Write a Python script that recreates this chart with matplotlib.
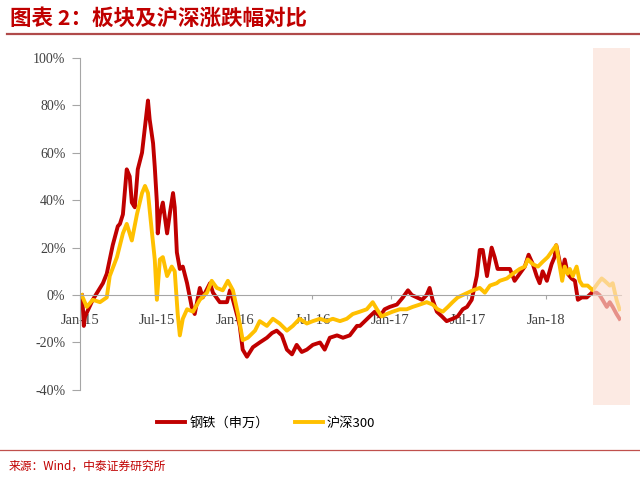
import pandas as pd
import matplotlib
matplotlib.use("Agg")
import matplotlib.pyplot as plt
import matplotlib.dates as mdates
from matplotlib.lines import Line2D
from matplotlib.ticker import FuncFormatter

# ---- data (% change since 2015-01-05) ----
steel_dates = [
    "2015-01-05", "2015-01-08", "2015-01-10", "2015-01-13", "2015-01-31", "2015-02-17",
    "2015-02-24", "2015-03-05", "2015-03-12", "2015-03-19", "2015-03-31", "2015-04-05",
    "2015-04-12", "2015-04-21", "2015-04-28", "2015-05-03", "2015-05-10", "2015-05-17",
    "2015-05-27", "2015-06-03", "2015-06-10", "2015-06-14", "2015-06-22", "2015-06-26",
    "2015-07-01", "2015-07-03", "2015-07-08", "2015-07-15", "2015-07-25", "2015-08-01",
    "2015-08-08", "2015-08-12", "2015-08-17", "2015-08-24", "2015-08-31", "2015-09-10",
    "2015-09-21", "2015-09-28", "2015-10-10", "2015-10-17", "2015-11-03", "2015-11-10",
    "2015-11-26", "2015-12-13", "2015-12-20", "2015-12-27", "2016-01-08", "2016-01-12",
    "2016-01-19", "2016-01-29", "2016-02-12", "2016-02-28", "2016-03-16", "2016-03-28",
    "2016-04-08", "2016-04-20", "2016-05-02", "2016-05-14", "2016-05-25", "2016-06-06",
    "2016-06-18", "2016-07-02", "2016-07-19", "2016-07-30", "2016-08-11", "2016-08-28",
    "2016-09-11", "2016-09-27", "2016-10-14", "2016-10-21", "2016-11-13", "2016-11-25",
    "2016-12-07", "2016-12-18", "2016-12-30", "2017-01-16", "2017-01-30", "2017-02-11",
    "2017-02-20", "2017-03-04", "2017-03-16", "2017-03-27", "2017-04-03", "2017-04-10",
    "2017-04-20", "2017-05-02", "2017-05-13", "2017-05-27", "2017-06-08", "2017-06-20",
    "2017-06-30", "2017-07-11", "2017-07-23", "2017-07-30", "2017-08-06", "2017-08-16",
    "2017-08-27", "2017-09-03", "2017-09-10", "2017-09-22", "2017-10-09", "2017-10-20",
    "2017-11-01", "2017-11-13", "2017-11-22", "2017-12-02", "2017-12-11", "2017-12-18",
    "2017-12-25", "2018-01-04", "2018-01-15", "2018-01-22", "2018-01-26", "2018-02-09",
    "2018-02-15", "2018-02-22", "2018-03-03", "2018-03-11", "2018-03-18", "2018-03-27",
    "2018-04-08", "2018-04-20", "2018-05-01", "2018-05-08", "2018-05-15", "2018-05-25",
    "2018-06-01", "2018-06-08", "2018-06-17", "2018-06-24",
]
steel_pct = [
    0, -6, -13, -9, -2, 3,
    5, 9, 15, 21, 29, 30,
    34, 53, 50, 39, 37, 53,
    60, 71, 82, 74, 64, 54,
    39, 26, 34, 39, 26, 35,
    43, 37, 18, 11, 12, 5,
    -5, -8, 3, -1, 5, 1,
    -3, -3, 2, -2, -10, -13,
    -23, -26, -22, -20, -18, -16,
    -15, -17, -23, -25, -21, -24,
    -23, -21, -20, -23, -18, -17,
    -18, -17, -13, -13, -9, -7,
    -9, -6, -5, -4, -1, 2,
    0, -1, -2, 0, 3, -2,
    -7, -9, -11, -10, -9, -6,
    -5, -2, 8, 19, 19, 8,
    20, 16, 11, 11, 11, 6,
    9, 12, 17, 13, 8, 5,
    10, 6, 13, 16, 21, 9,
    15, 9, 7, 6, -2, -1,
    -1, 1, 1, 0, -2, -5,
    -3, -5, -8, -10,
]

hs300_dates = [
    "2015-01-05", "2015-01-17", "2015-01-31", "2015-02-17", "2015-03-05", "2015-03-12",
    "2015-03-29", "2015-04-12", "2015-04-21", "2015-05-03", "2015-05-15", "2015-05-27",
    "2015-06-03", "2015-06-10", "2015-06-19", "2015-06-26", "2015-07-01", "2015-07-08",
    "2015-07-15", "2015-07-25", "2015-08-05", "2015-08-12", "2015-08-19", "2015-08-24",
    "2015-08-31", "2015-09-10", "2015-09-24", "2015-10-10", "2015-10-27", "2015-11-07",
    "2015-11-19", "2015-12-03", "2015-12-15", "2015-12-27", "2016-01-08", "2016-01-19",
    "2016-01-31", "2016-02-17", "2016-02-28", "2016-03-16", "2016-03-30", "2016-04-15",
    "2016-05-02", "2016-05-16", "2016-06-01", "2016-06-18", "2016-07-02", "2016-07-19",
    "2016-08-04", "2016-08-18", "2016-09-04", "2016-09-20", "2016-10-04", "2016-10-21",
    "2016-11-06", "2016-11-20", "2016-11-30", "2016-12-11", "2016-12-23", "2017-01-06",
    "2017-01-23", "2017-02-08", "2017-02-22", "2017-03-11", "2017-03-27", "2017-04-10",
    "2017-04-22", "2017-05-04", "2017-05-16", "2017-05-27", "2017-06-08", "2017-06-20",
    "2017-07-02", "2017-07-14", "2017-07-30", "2017-08-11", "2017-08-23", "2017-09-08",
    "2017-09-15", "2017-10-02", "2017-10-16", "2017-11-01", "2017-11-13", "2017-11-20",
    "2017-12-02", "2017-12-14", "2017-12-25", "2018-01-06", "2018-01-18", "2018-01-26",
    "2018-02-09", "2018-02-15", "2018-02-22", "2018-02-27", "2018-03-06", "2018-03-15",
    "2018-03-22", "2018-03-29", "2018-04-10", "2018-04-22", "2018-05-04", "2018-05-13",
    "2018-05-20", "2018-06-01", "2018-06-08", "2018-06-17", "2018-06-24",
]
hs300_pct = [
    0, -5, -2, -3, -1, 8,
    16, 26, 30, 23, 34, 43,
    46, 43, 27, 15, -2, 15,
    16, 8, 12, 10, -8, -17,
    -10, -6, -7, -2, 1, 6,
    3, 2, 6, 2, -8, -19,
    -18, -15, -11, -13, -10, -12,
    -15, -13, -10, -12, -11, -10,
    -11, -10, -11, -10, -8, -7,
    -6, -3, -6, -9, -8, -7,
    -6, -6, -5, -4, -3, -4,
    -6, -7, -5, -3, -1, 0,
    1, 2, 3, 1, 4, 5,
    6, 7, 9, 11, 12, 15,
    13, 12, 14, 16, 19, 21,
    6, 12, 9, 11, 8, 12,
    6, 4, 4, 2, 5, 7,
    6, 4, 5, -2, -6,
]

series_names = ["钢铁（申万）", "沪深300"]
y_ticks = [-40, -20, 0, 20, 40, 60, 80, 100]

RED = "#C00000"
YELLOW = "#FFC000"
CJK = ["Noto Sans CJK SC", "DejaVu Sans"]

fig = plt.figure(figsize=(6.4, 4.82), dpi=100)
ax = fig.add_axes([0.125, 0.191, 0.845, 0.689])

ax.plot(pd.to_datetime(steel_dates), steel_pct, color=RED, lw=2.8,
        solid_joinstyle="round", label=series_names[0])
ax.plot(pd.to_datetime(hs300_dates), hs300_pct, color=YELLOW, lw=2.8,
        solid_joinstyle="round", label=series_names[1])

# shaded box drawn over the tail of the lines
ax.axvspan(pd.Timestamp("2018-04-22"), pd.Timestamp("2018-07-18"),
           ymin=-0.045, ymax=1.03, color="#FBE0D4", alpha=0.65, lw=0,
           clip_on=False, zorder=5)

ax.set_xlim(pd.Timestamp("2015-01-01"), pd.Timestamp("2018-06-27"))
ax.set_ylim(-40, 100)

ax.spines["top"].set_visible(False)
ax.spines["right"].set_visible(False)
ax.spines["left"].set_color("#A6A6A6")
ax.spines["bottom"].set_position(("data", 0))
ax.spines["bottom"].set_color("#A6A6A6")

ax.set_yticks(y_ticks)
ax.yaxis.set_major_formatter(FuncFormatter(lambda v, p: f"{v:.0f}%"))
ax.xaxis.set_major_locator(mdates.MonthLocator(bymonth=(1, 7)))
ax.xaxis.set_major_formatter(mdates.DateFormatter("%b-%y"))

ax.tick_params(axis="y", length=5.5, width=0.8, color="#A6A6A6", pad=5,
               labelsize=10, labelcolor="#404040")
ax.tick_params(axis="x", length=3, width=0.8, color="#A6A6A6", pad=11,
               labelsize=10.5, labelcolor="#404040")
for lab in ax.get_xticklabels() + ax.get_yticklabels():
    lab.set_family("Liberation Serif")

leg = fig.legend(loc="center", bbox_to_anchor=(0.416, 0.122), ncol=2, frameon=False,
                 prop={"family": CJK, "size": 9.5},
                 handlelength=2.1, handletextpad=0.3, columnspacing=2.0)
for h in leg.get_lines():
    h.set_linewidth(2.8)

# title, rules and source
fig.text(0.016, 0.962, "图表 2：板块及沪深涨跌幅对比", color=RED, fontsize=15.5,
         fontweight="bold", family=CJK, va="center")
fig.add_artist(Line2D([0.011, 1.0], [0.929, 0.929], color="#B04A4A", lw=1.6))
fig.add_artist(Line2D([0.0, 1.0], [0.066, 0.066], color="#C0504D", lw=0.9))
fig.text(0.013, 0.033, "来源：Wind，中泰证券研究所", color=RED, fontsize=8.5,
         family=CJK, va="center")

fig.savefig("out.png", dpi=100)
